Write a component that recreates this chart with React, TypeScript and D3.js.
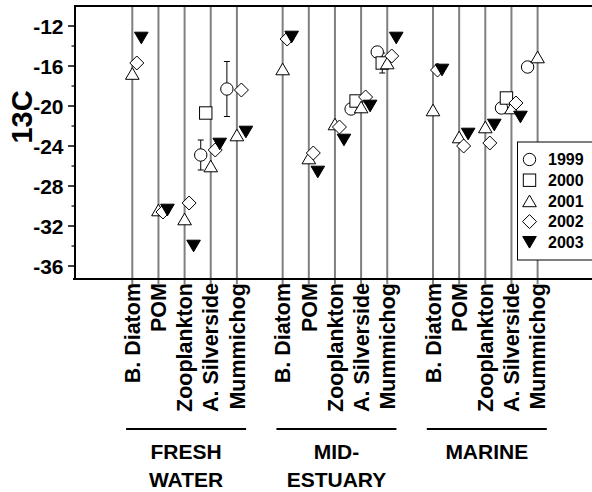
import React from "react";
import * as d3 from "d3";

const categories = ["B. Diatom", "POM", "Zooplankton", "A. Silverside", "Mummichog"];
const groups = [["FRESH", "WATER"], ["MID-", "ESTUARY"], ["MARINE"]];
const years = ["1999", "2000", "2001", "2002", "2003"];
const yTicks = [-12, -16, -20, -24, -28, -32, -36];
const yMinorTicks = [-14, -18, -22, -26, -30, -34];

// 15 entries: fresh (5), mid-estuary (5), marine (5)
const v1999 = [null, null, null, -24.9, -18.3, null, null, null, -20.3, -14.6, null, null, null, -20.2, -16.1];
const v2000 = [null, null, null, -20.7, null, null, null, null, -19.5, -15.7, null, null, null, -19.2, null];
const v2001 = [-16.75, -30.4, -31.3, -26.0, -22.9, -16.3, -25.2, -21.8, -20.1, -15.7, -20.4, -23.1, -22.1, -20.2, -15.1];
const v2002 = [-15.7, -30.6, -29.7, -24.4, -18.4, -13.3, -24.7, -22.1, -19.1, -15.0, -16.4, -24.0, -23.7, -19.7, null];
const v2003 = [-13.2, -30.4, -34.0, -23.8, -22.6, -13.1, -26.6, -23.4, -20.0, -13.2, -16.4, -22.8, -21.9, -21.1, null];
const e1999 = [0, 0, 0, 1.5, 2.75, 0, 0, 0, 0, 0, 0, 0, 0, 0, 0];
const e2000 = [0, 0, 0, 0, 0, 0, 0, 0, 0, 1.0, 0, 0, 0, 0, 0];

const series = [
  { year: years[0], values: v1999, err: e1999, shape: "circle", dx: -10 },
  { year: years[1], values: v2000, err: e2000, shape: "square", dx: -5 },
  { year: years[2], values: v2001, err: null, shape: "triangle", dx: 0 },
  { year: years[3], values: v2002, err: null, shape: "diamond", dx: 4.5 },
  { year: years[4], values: v2003, err: null, shape: "down", dx: 9 },
];

const FONT = "'Liberation Sans', Arial, Helvetica, sans-serif";
const GROUP_GAP = 5.75;

const left = 75, top = 6, bottom = 279, right = 600;

const y = d3.scaleLinear().domain([-37.3, -10]).range([bottom, top]);
const x = d3.scaleLinear().domain([0, 2 * GROUP_GAP + 4]).range([132.3, 537.6]);

const posOf = (i: number) => Math.floor(i / 5) * GROUP_GAP + (i % 5);

function Marker({ shape, cx, cy }: { shape: string; cx: number; cy: number }) {
  const st = { stroke: "#000", strokeWidth: 1 };
  if (shape === "circle") return <circle cx={cx} cy={cy} r={6.2} fill="#fff" {...st} />;
  if (shape === "square") return <rect x={cx - 6.2} y={cy - 6.2} width={12.4} height={12.4} fill="#fff" {...st} />;
  if (shape === "triangle") {
    const w = 6.8, h = 5.8;
    return <path d={`M${cx},${cy - h}L${cx + w},${cy + h}L${cx - w},${cy + h}Z`} fill="#fff" {...st} />;
  }
  if (shape === "diamond") {
    const r = 7;
    return <path d={`M${cx},${cy - r}L${cx + r},${cy}L${cx},${cy + r}L${cx - r},${cy}Z`} fill="#fff" {...st} />;
  }
  const w = 6.8, h = 5.8;
  return <path d={`M${cx - w},${cy - h}L${cx + w},${cy - h}L${cx},${cy + h}Z`} fill="#000" {...st} />;
}

export default function App() {
  const idx = d3.range(15);
  return (
    <svg width={592} height={492} style={{ position: "absolute", left: 0, top: 0, background: "#fff" }} fontFamily={FONT}>
      {/* vertical category lines */}
      {idx.map((i) => (
        <line key={"v" + i} x1={x(posOf(i))} x2={x(posOf(i))} y1={top} y2={bottom + 5} stroke="#808080" strokeWidth={2} />
      ))}
      {/* frame */}
      <line x1={left} x2={right} y1={top} y2={top} stroke="#000" strokeWidth={2} />
      <line x1={left - 2} x2={right} y1={bottom} y2={bottom} stroke="#000" strokeWidth={2} />
      <line x1={left} x2={left} y1={top - 1} y2={bottom + 1} stroke="#000" strokeWidth={2} />
      {/* y ticks */}
      {yTicks.map((t) => (
        <g key={"t" + t}>
          <line x1={left - 7} x2={left} y1={y(t)} y2={y(t)} stroke="#000" strokeWidth={1.5} />
          <text x={63.5} y={y(t)} dy="0.36em" textAnchor="end" fontSize={21} fontWeight="bold">
            {t}
          </text>
        </g>
      ))}
      {yMinorTicks.map((t) => (
        <line key={"m" + t} x1={left - 3.5} x2={left} y1={y(t)} y2={y(t)} stroke="#000" strokeWidth={1.2} />
      ))}
      {/* y title */}
      <text transform={`translate(22,${y(-21.1)}) rotate(-90)`} textAnchor="middle" dy="0.36em" fontSize={29} fontWeight="bold">
        13C
      </text>
      {/* error bars */}
      {series.map((s) =>
        s.err
          ? idx.map((i) => {
              const v = s.values[i];
              const e = s.err![i];
              if (v == null || !e) return null;
              const cx = x(posOf(i)) + s.dx;
              return (
                <g key={s.year + "e" + i} stroke="#000" strokeWidth={1}>
                  <line x1={cx} x2={cx} y1={y(v + e)} y2={y(v - e)} />
                  <line x1={cx - 3} x2={cx + 3} y1={y(v + e)} y2={y(v + e)} />
                  <line x1={cx - 3} x2={cx + 3} y1={y(v - e)} y2={y(v - e)} />
                </g>
              );
            })
          : null
      )}
      {/* markers */}
      {series.map((s) =>
        idx.map((i) => {
          const v = s.values[i];
          if (v == null) return null;
          return <Marker key={s.year + i} shape={s.shape} cx={x(posOf(i)) + s.dx} cy={y(v)} />;
        })
      )}
      {/* category labels */}
      {idx.map((i) => (
        <text
          key={"c" + i}
          transform={`translate(${x(posOf(i))},${bottom + 4}) rotate(-90)`}
          textAnchor="end"
          dy="0.36em"
          fontSize={21.5}
          fontWeight="bold"
        >
          {categories[i % 5]}
        </text>
      ))}
      {/* group labels */}
      {groups.map((g, gi) => {
        const cx = (x(gi * GROUP_GAP) + x(gi * GROUP_GAP + 4)) / 2 + 1.5;
        return (
          <g key={"g" + gi}>
            <line x1={cx - 60} x2={cx + 60} y1={429} y2={429} stroke="#000" strokeWidth={2} />
            {g.map((t, li) => (
              <text key={t} x={cx} y={459 + li * 28} textAnchor="middle" fontSize={21} fontWeight="bold">
                {t}
              </text>
            ))}
          </g>
        );
      })}
      {/* legend */}
      <rect x={517.5} y={142} width={100} height={118} fill="#fff" stroke="#000" strokeWidth={1} />
      {series.map((s, k) => {
        const cy = 159.5 + k * 20.7;
        return (
          <g key={"l" + s.year}>
            <Marker shape={s.shape} cx={529.5} cy={cy} />
            <text x={548} y={cy} dy="0.36em" fontSize={16} fontWeight="bold">
              {s.year}
            </text>
          </g>
        );
      })}
    </svg>
  );
}
